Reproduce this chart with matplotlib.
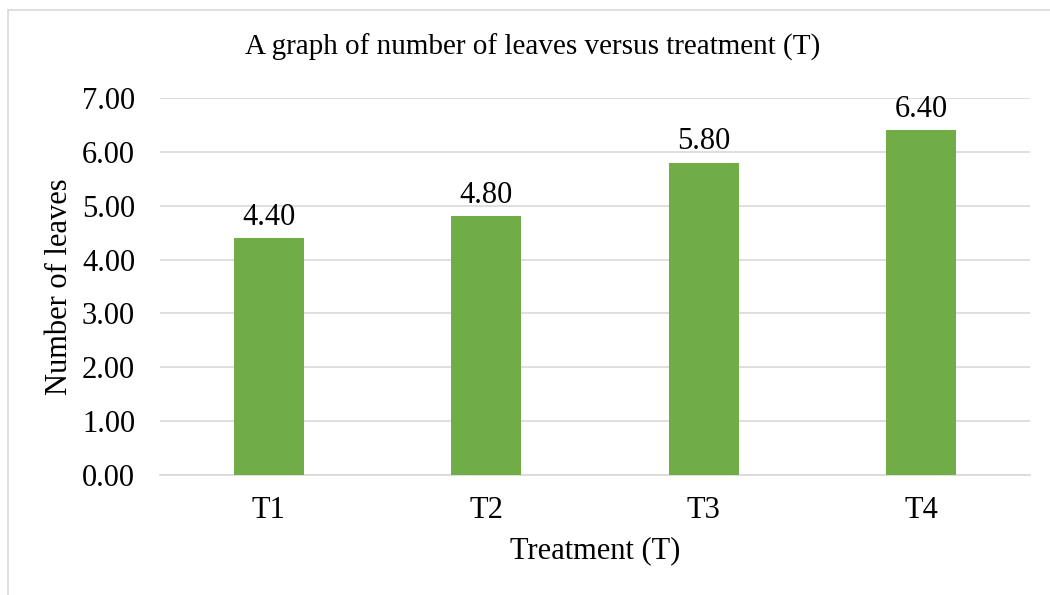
import matplotlib.pyplot as plt
import numpy as np

categories = ['T1', 'T2', 'T3', 'T4']
leaves = [4.40, 4.80, 5.80, 6.40]
yticks = [0, 1, 2, 3, 4, 5, 6, 7]

plt.rcParams['font.family'] = ['Liberation Serif', 'DejaVu Serif']

fig = plt.figure(figsize=(10.5, 5.95), dpi=100)
# chart frame
fig.patches.append(plt.Rectangle((8 / 1050, -0.1), 1.2, 1 - 10 / 595 + 0.1,
                                 transform=fig.transFigure, fill=False,
                                 edgecolor='#D9D9D9', linewidth=1.2))

ax = fig.add_axes([160 / 1050, 1 - 475 / 595, 870 / 1050, 377 / 595])
x = np.arange(len(categories))
bars = ax.bar(x, leaves, width=0.32, color='#70AD47', zorder=3)
for b, v in zip(bars, leaves):
    ax.text(b.get_x() + b.get_width() / 2, v + 0.12, '%.2f' % v,
            ha='center', va='bottom', fontsize=22)

ax.set_xlim(-0.5, 3.5)
ax.set_ylim(0, 7)
ax.set_yticks(yticks)
ax.set_yticklabels(['%.2f' % t for t in yticks], fontsize=22)
ax.set_xticks(x)
ax.set_xticklabels(categories, fontsize=22)
ax.tick_params(length=0)
ax.tick_params(axis='y', pad=18)
ax.tick_params(axis='x', pad=15)
ax.yaxis.grid(True, color='#D9D9D9', linewidth=1.2, zorder=0)
for s in ['top', 'right', 'left']:
    ax.spines[s].set_visible(False)
ax.spines['bottom'].set_color('#D9D9D9')
ax.spines['bottom'].set_linewidth(1.2)

ax.set_xlabel('Treatment (T)', fontsize=22, labelpad=8)
ax.set_ylabel('Number of leaves', fontsize=22, labelpad=6)
fig.text(533 / 1050, 1 - 47 / 595, 'A graph of number of leaves versus treatment (T)',
         ha='center', va='center', fontsize=21)

fig.savefig('out.png', dpi=100)
